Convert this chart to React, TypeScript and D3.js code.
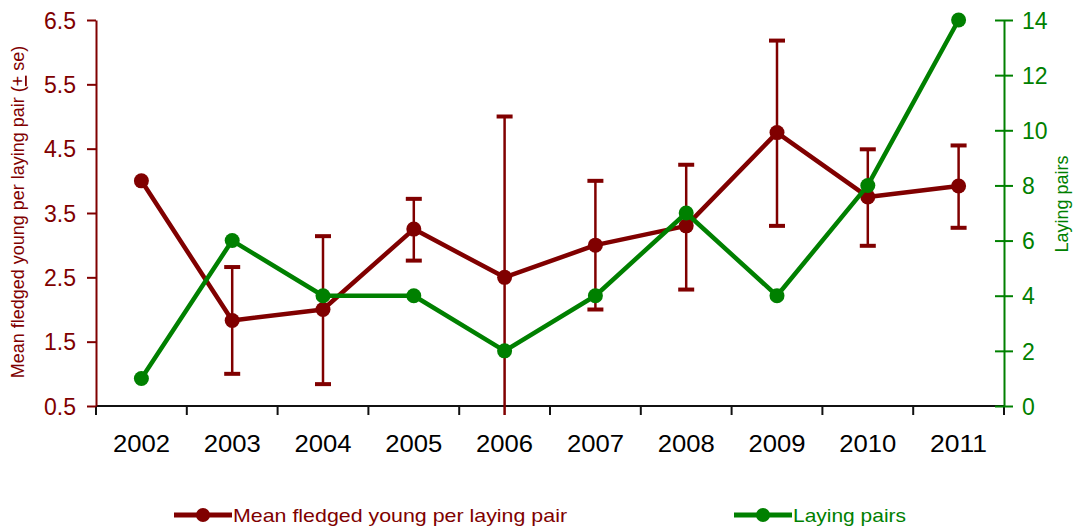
import React, { useRef, useEffect } from 'react';
import * as d3 from 'd3';

const years = ['2002', '2003', '2004', '2005', '2006', '2007', '2008', '2009', '2010', '2011'];
const meanYoung = [4.0, 1.83, 2.0, 3.25, 2.5, 3.0, 3.3, 4.75, 3.75, 3.92];
const seUpper = [null, 2.66, 3.14, 3.72, 5.0, 4.0, 4.25, 6.18, 4.49, 4.55];
const seLower = [null, 1.0, 0.84, 2.76, 0.36, 2.0, 2.31, 3.3, 2.99, 3.27];
const layingPairs = [1, 6, 4, 4, 2, 4, 7, 4, 8, 14];
const leftTicks = [0.5, 1.5, 2.5, 3.5, 4.5, 5.5, 6.5];
const rightTicks = [0, 2, 4, 6, 8, 10, 12, 14];

const RED = '#800000';
const GREEN = '#008000';
const FONT = '"Liberation Sans", Arial, sans-serif';

const App = () => {
  const svgRef = useRef<SVGSVGElement>(null);

  useEffect(() => {
    const svg = d3.select(svgRef.current);
    svg.selectAll('*').remove();
    const margin = { top: 20, left: 96 };
    const width = 908;
    const height = 386;

    const x = d3.scaleBand().domain(years).range([0, width]);
    const yL = d3.scaleLinear().domain([0.5, 6.5]).range([height, 0]);
    const yR = d3.scaleLinear().domain([0, 14]).range([height, 0]);
    const cx = (i: number) => (x(years[i]) as number) + x.bandwidth() / 2;

    const g = svg.append('g').attr('transform', `translate(${margin.left},${margin.top})`);

    // x axis
    const xa = g.append('g').attr('transform', `translate(0,${height})`);
    xa.append('line').attr('x1', 0).attr('x2', width).attr('stroke', '#111').attr('stroke-width', 2);
    d3.range(years.length + 1).forEach(k => {
      xa.append('line').attr('x1', k * x.bandwidth()).attr('x2', k * x.bandwidth())
        .attr('y1', 0).attr('y2', 9).attr('stroke', '#111').attr('stroke-width', 2);
    });
    years.forEach((yr, i) => {
      xa.append('text').attr('x', cx(i) - 28.5).attr('y', 46)
        .attr('textLength', 57).attr('lengthAdjust', 'spacingAndGlyphs')
        .attr('font-family', FONT).attr('font-size', 23).attr('fill', '#000').text(yr);
    });

    // left axis
    const la = g.append('g').call(d3.axisLeft(yL).tickValues(leftTicks).tickSize(9).tickSizeOuter(0).tickFormat(d3.format('.1f')));
    la.select('.domain').attr('stroke', RED).attr('stroke-width', 2);
    la.selectAll('.tick line').attr('stroke', RED).attr('stroke-width', 2);
    la.selectAll('.tick text').attr('fill', RED).attr('font-family', FONT).attr('font-size', 23).attr('x', -20).attr('dy', '0.36em');

    // right axis
    const ra = g.append('g').attr('transform', `translate(${width},0)`)
      .call(d3.axisRight(yR).tickValues(rightTicks).tickSize(9).tickSizeOuter(0));
    ra.select('.domain').attr('stroke', GREEN).attr('stroke-width', 2);
    ra.selectAll('.tick line').attr('stroke', GREEN).attr('stroke-width', 2).attr('x1', -9);
    ra.selectAll('.tick text').attr('fill', GREEN).attr('font-family', FONT).attr('font-size', 23).attr('x', 18).attr('dy', '0.36em');

    // mean fledged line
    const lineL = d3.line<number>().x((_, i) => cx(i)).y(d => yL(d));
    g.append('path').datum(meanYoung).attr('d', lineL).attr('fill', 'none')
      .attr('stroke', RED).attr('stroke-width', 4.5).attr('stroke-linejoin', 'round');
    meanYoung.forEach((v, i) => {
      g.append('circle').attr('cx', cx(i)).attr('cy', yL(v)).attr('r', 7.5).attr('fill', RED);
    });

    // error bars
    meanYoung.forEach((v, i) => {
      const hi = seUpper[i];
      const lo = seLower[i];
      if (hi == null || lo == null) return;
      g.append('line').attr('x1', cx(i)).attr('x2', cx(i)).attr('y1', yL(hi)).attr('y2', yL(lo))
        .attr('stroke', RED).attr('stroke-width', 2.5);
      [hi, lo].forEach(e => {
        if (e < 0.5) return;
        g.append('line').attr('x1', cx(i) - 8).attr('x2', cx(i) + 8).attr('y1', yL(e)).attr('y2', yL(e))
          .attr('stroke', RED).attr('stroke-width', 4);
      });
    });

    // laying pairs line
    const lineR = d3.line<number>().x((_, i) => cx(i)).y(d => yR(d));
    g.append('path').datum(layingPairs).attr('d', lineR).attr('fill', 'none')
      .attr('stroke', GREEN).attr('stroke-width', 4.5).attr('stroke-linejoin', 'round');
    layingPairs.forEach((v, i) => {
      g.append('circle').attr('cx', cx(i)).attr('cy', yR(v)).attr('r', 7.5).attr('fill', GREEN);
    });

    // axis titles
    const lt = svg.append('text').attr('transform', 'translate(24,212) rotate(-90)').attr('text-anchor', 'middle')
      .attr('font-family', FONT).attr('font-size', 18).attr('fill', RED);
    lt.append('tspan').text('Mean fledged young per laying pair (');
    lt.append('tspan').attr('text-decoration', 'underline').text('+');
    lt.append('tspan').text(' se)');
    svg.append('text').attr('transform', 'translate(1068,204) rotate(-90)').attr('text-anchor', 'middle')
      .attr('font-family', FONT).attr('font-size', 18).attr('fill', GREEN).text('Laying pairs');

    // legend
    const legend = [
      { label: 'Mean fledged young per laying pair', color: RED, x: 174, len: 334 },
      { label: 'Laying pairs', color: GREEN, x: 734, len: 113 },
    ];
    legend.forEach(l => {
      const lg = svg.append('g').attr('transform', `translate(${l.x},515)`);
      lg.append('line').attr('x1', 0).attr('x2', 58).attr('stroke', l.color).attr('stroke-width', 5);
      lg.append('circle').attr('cx', 29).attr('r', 7).attr('fill', l.color);
      lg.append('text').attr('x', 59).attr('y', 7).attr('font-family', FONT).attr('font-size', 19)
        .attr('textLength', l.len).attr('lengthAdjust', 'spacingAndGlyphs')
        .attr('fill', l.color).text(l.label);
    });
  }, []);

  return (
    <svg ref={svgRef} width={1075} height={528} style={{ position: 'absolute', left: 0, top: 0, background: '#fff' }}></svg>
  );
};

export default App;
